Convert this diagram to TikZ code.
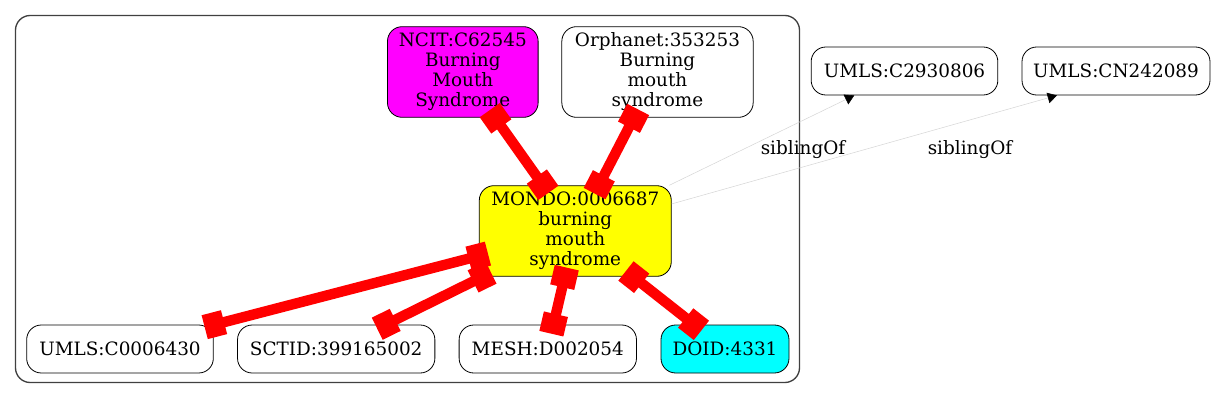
\documentclass[tikz,border=0pt]{standalone}
\usepackage{fontspec}
\setmainfont{DejaVu Serif}
\usetikzlibrary{arrows.meta,calc}
\definecolor{gvmagenta}{RGB}{255,0,255}
\definecolor{gvcyan}{RGB}{0,255,255}
\definecolor{gvyellow}{RGB}{255,255,0}
\definecolor{gvred}{RGB}{255,0,0}
\begin{document}
\begin{tikzpicture}[x=0.75pt,y=-0.75pt,
 txt/.style={font=\fontsize{13.8}{15}\selectfont},
 nd/.style={draw, txt, rounded corners=11pt, align=center, inner sep=0pt, line width=0.6pt},
 big/.style={nd, minimum height=68pt},
 small/.style={nd, minimum height=36pt},
 rel/.style={gvred, line width=7.8pt, {Square[length=15pt,width=18.5pt]}-{Square[length=15pt,width=18.5pt]}, shorten <=-7pt, shorten >=-7pt},
 sib/.style={draw=black!16, line width=0.4pt, -{Triangle[length=7pt,width=8pt,color=black]}}]
\useasboundingbox (0,0) rectangle (1218,400);
\draw[rounded corners=11pt, draw=black!75, line width=1pt] (15.5,15.5) rectangle (799.5,382.5);
\node[big, fill=gvmagenta, minimum width=113pt] (ncit) at (462.8,72) {NCIT:C62545\\Burning\\Mouth\\Syndrome};
\node[big, minimum width=143.5pt] (orpha) at (657.5,72) {Orphanet:353253\\Burning\\mouth\\syndrome};
\node[big, fill=gvyellow, minimum width=144pt] (mondo) at (575.3,231) {MONDO:0006687\\burning\\mouth\\syndrome};
\node[small, minimum width=140pt] (c29) at (904.5,71) {UMLS:C2930806};
\node[small, minimum width=141pt] (cn) at (1116,71) {UMLS:CN242089};
\node[small, minimum width=140pt] (c00) at (120,349) {UMLS:C0006430};
\node[small, minimum width=148pt] (sct) at (336.2,349) {SCTID:399165002};
\node[small, minimum width=133pt] (mesh) at (547.8,349) {MESH:D002054};
\node[small, fill=gvcyan, minimum width=96pt] (doid) at (725,349) {DOID:4331};
\draw[rel] (ncit) -- (mondo);
\draw[rel] (orpha) -- (mondo);
\draw[rel] (mondo) -- (c00);
\draw[rel] (mondo) -- (sct);
\draw[rel] (mondo) -- (mesh);
\draw[rel] (mondo) -- (doid);
\coordinate (cnin) at ($(cn.south)+(-59,0)$);
\draw[sib] (mondo) -- (c29);
\draw[sib] (mondo) -- (cnin);
\node[txt] (l1) at (803,150) {siblingOf};
\node[txt] (l2) at (970,150) {siblingOf};
\end{tikzpicture}
\end{document}
